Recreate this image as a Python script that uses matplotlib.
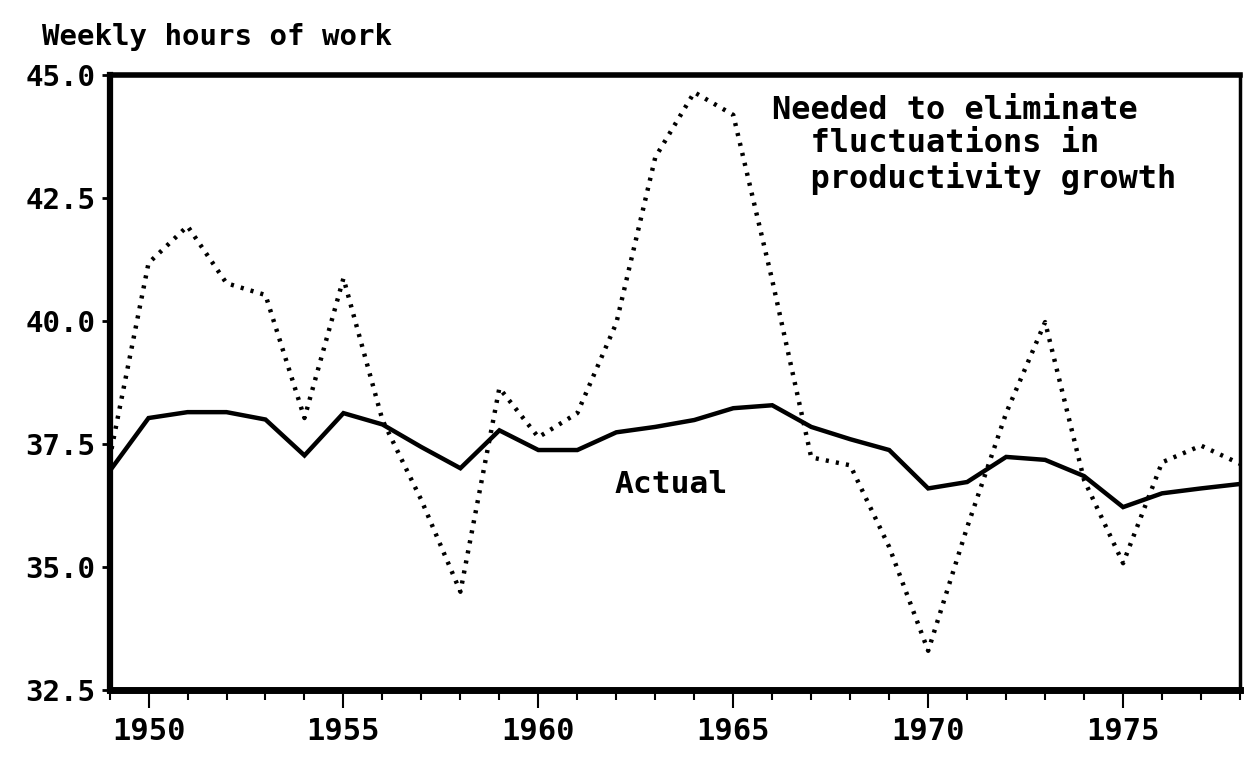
import matplotlib.pyplot as plt
from matplotlib.ticker import MultipleLocator, FixedLocator

years = list(range(1949, 1979))

actual = [36.95, 38.03, 38.15, 38.15, 38.0, 37.27, 38.13, 37.9, 37.44, 37.01,
          37.78, 37.38, 37.38, 37.74, 37.85, 37.99, 38.23, 38.29, 37.85, 37.6,
          37.38, 36.6, 36.73, 37.24, 37.18, 36.85, 36.22, 36.5, 36.6, 36.69]

needed = [37.2, 41.18, 41.93, 40.77, 40.53, 38.03, 40.87, 37.99, 36.36, 34.5,
          38.64, 37.64, 38.13, 39.96, 43.33, 44.65, 44.19, 40.83, 37.23, 37.07,
          35.41, 33.3, 35.81, 38.13, 39.98, 36.77, 35.08, 37.13, 37.47, 37.1]

y_ticks = [32.5, 35.0, 37.5, 40.0, 42.5, 45.0]
x_labels = [1950, 1955, 1960, 1965, 1970, 1975]

FONT = 'DejaVu Sans Mono'

fig = plt.figure(figsize=(12.45, 7.66), dpi=100)
ax = fig.add_axes([0.088, 0.099, 0.908, 0.803])

ax.plot(years, actual, color='black', lw=3.2, solid_joinstyle='miter')
ax.plot(years, needed, color='black', lw=3.2, linestyle=(0, (0.7, 1.6)),
        dash_capstyle='butt')

ax.set_xlim(1949, 1978)
ax.set_ylim(32.5, 45.0)

ax.yaxis.set_major_locator(FixedLocator(y_ticks))
ax.set_yticklabels([f'{v:.1f}' for v in y_ticks], fontfamily=FONT,
                   fontweight='bold', fontsize=21)
ax.xaxis.set_major_locator(FixedLocator(x_labels))
ax.xaxis.set_minor_locator(MultipleLocator(1))
ax.set_xticklabels([str(v) for v in x_labels], fontfamily=FONT,
                   fontweight='bold', fontsize=22)

ax.tick_params(axis='y', direction='out', length=6, width=2, pad=4)
ax.tick_params(axis='x', which='major', direction='out', length=13, width=1.5, pad=6)
ax.tick_params(axis='x', which='minor', direction='out', length=7, width=1.5)

ax.spines['left'].set_linewidth(4.5)
ax.spines['bottom'].set_linewidth(5)
ax.spines['top'].set_linewidth(4)
ax.spines['right'].set_linewidth(2.5)

fig.text(0.034, 0.952, 'Weekly hours of work', fontfamily=FONT,
         fontweight='bold', fontsize=21, va='center', ha='left')

ax.text(1966.0, 44.6, 'Needed to eliminate\n  fluctuations in\n  productivity growth',
        fontfamily=FONT, fontweight='bold', fontsize=23, va='top', ha='left',
        linespacing=1.1)
ax.text(1961.95, 36.67, 'Actual', fontfamily=FONT, fontweight='bold',
        fontsize=22.5, va='center', ha='left')

fig.savefig('out.png', dpi=100)
